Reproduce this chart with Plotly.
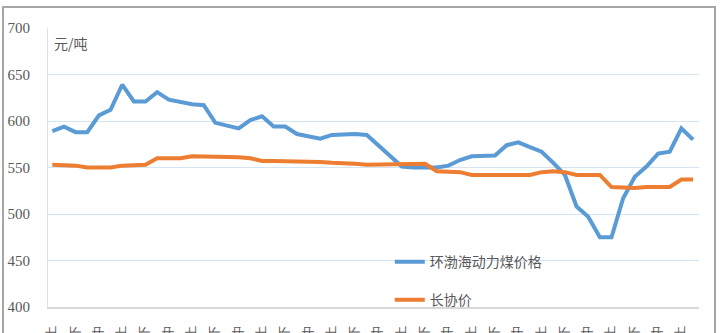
import plotly.graph_objects as go

# 旬度数据 (2019年1月上 起)
months = [f"{y}年{m}月" for y, m in [(2019, i) for i in range(1, 13)] + [(2020, i) for i in range(1, 8)]]
xun = ["上", "中", "下"]
periods = [mo + x for mo in months for x in xun][:56]

bsp_price = [589, 594, 588, 588, 606, 612, 639, 621, 621, 631,
             623, 620, 618, 617, 598, 595, 592, 601, 605, 594,
             594, 586, 583, 581, 585, 586, 586, 585, 574, 562,
             551, 550, 550, 550, 552, 558, 562, 563, 563, 574,
             577, 572, 567, 555, 542, 508, 497, 475, 475, 517,
             540, 551, 565, 567, 592, 580]

contract_price = [553, 553, 552, 550, 550, 550, 552, 553, 553, 560,
                  560, 560, 562, 562, 562, 561, 561, 560, 557, 557,
                  557, 556, 556, 556, 555, 555, 554, 553, 553, 553,
                  554, 554, 554, 546, 546, 545, 542, 542, 542, 542,
                  542, 542, 545, 546, 545, 542, 542, 542, 529, 528,
                  528, 529, 529, 529, 537, 537]

series_names = ["环渤海动力煤价格", "长协价"]
y_ticks = [400, 450, 500, 550, 600, 650, 700]
unit_label = "元/吨"

x_idx = list(range(len(periods)))
tick_idx = x_idx[::2]
tick_text = [periods[i] for i in tick_idx]

fig = go.Figure()
fig.add_trace(go.Scatter(x=x_idx, y=bsp_price, mode="lines", name=series_names[0],
                         line=dict(color="#5B9BD5", width=4), legendgroup="a"))
fig.add_trace(go.Scatter(x=x_idx, y=contract_price, mode="lines", name=series_names[1],
                         line=dict(color="#ED7D31", width=4), legendgroup="b"))

gray = "#595959"
fig.update_layout(
    width=720, height=333,
    margin=dict(l=48, r=21, t=28, b=26, autoexpand=False),
    paper_bgcolor="white", plot_bgcolor="white",
    font=dict(family="Noto Sans CJK SC", color=gray, size=14),
    showlegend=True,
    legend=dict(x=0.525, y=0.093, xanchor="left", yanchor="middle",
                bgcolor="rgba(0,0,0,0)", font=dict(size=14, color=gray,
                family="Noto Sans CJK SC"),
                tracegroupgap=17, itemwidth=30),
    xaxis=dict(range=[-0.37, 55.51], tickmode="array", tickvals=tick_idx,
               ticktext=tick_text, tickangle=-90, showgrid=False,
               showline=True, linecolor="#D9D9D9", linewidth=2, ticks="",
               ticklabelstandoff=12, zeroline=False,
               tickfont=dict(size=12, color=gray, family="Noto Sans CJK SC")),
    yaxis=dict(range=[400, 700], tickvals=y_ticks, showgrid=True,
               gridcolor="#D6E3F1", gridwidth=1, showline=True,
               linecolor="#D6E3F1", linewidth=1, zeroline=False, ticks="",
               ticklabelstandoff=14,
               tickfont=dict(size=15, color=gray, family="Liberation Sans Narrow")),
    annotations=[dict(text=unit_label, xref="paper", yref="paper",
                      x=(52 - 48) / 651, y=(307 - 43) / 279, xanchor="left",
                      yanchor="middle", showarrow=False,
                      font=dict(size=14, color=gray, family="Noto Sans CJK SC"))],
    shapes=[dict(type="rect", xref="paper", yref="paper",
                 x0=(3 - 48) / 651, x1=(715 - 48) / 651,
                 y0=(307 - 345) / 279, y1=(307 - 7) / 279,
                 line=dict(color="#A6A6A6", width=2), fillcolor="rgba(0,0,0,0)",
                 layer="below")],
)

fig.write_html("out.html")
